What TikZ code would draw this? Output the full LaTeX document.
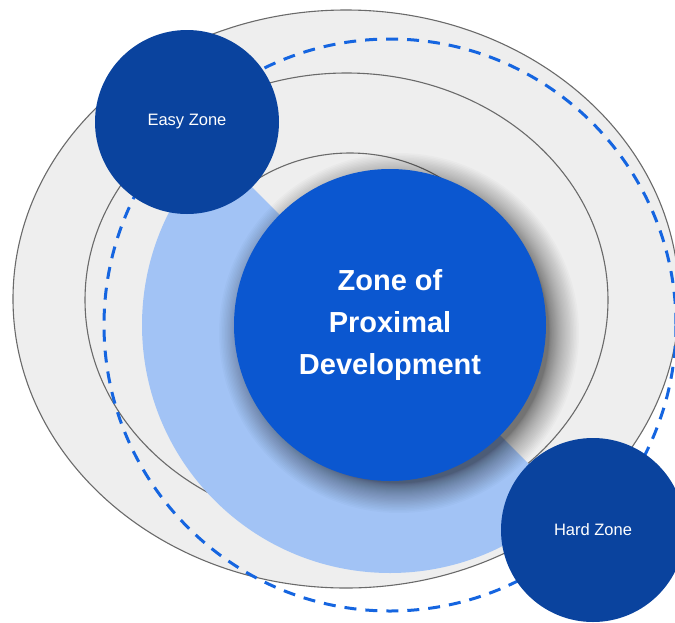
\documentclass[tikz,border=0pt]{standalone}
\usepackage{fontspec}
\setmainfont{Liberation Sans}
\usetikzlibrary{calc}

\definecolor{ringgray}{HTML}{EEEEEE}
\definecolor{edgegray}{HTML}{6A6A6A}
\definecolor{zpdblue}{HTML}{0B57D0}
\definecolor{zonenavy}{HTML}{0A439E}
\definecolor{armblue}{HTML}{A2C3F5}
\definecolor{dashblue}{HTML}{1565E0}

\begin{document}
\begin{tikzpicture}[x=1pt,y=-1pt,
  band/.style={fill=ringgray, draw=edgegray, line width=1.1pt},
  orbit/.style={draw=dashblue, line width=3pt, dash pattern=on 12pt off 9pt},
  zone/.style={circle, fill=zonenavy, minimum size=184pt, inner sep=0pt,
    text=white, font=\fontsize{16.5}{18}\selectfont},
  core/.style={circle, fill=zpdblue, minimum size=312pt, inner sep=0pt,
    text=white, align=center, font=\fontsize{29}{42}\selectfont\bfseries},
  halolayer/.style={fill=black, fill opacity=0.019}]

\useasboundingbox (0,0) rectangle (675,622);
\clip (0,0) rectangle (675,622);

\coordinate (c) at (390,325);
\coordinate (shadowc) at (399,333);

% nested grey bands
\draw[band] (346,299) ellipse [x radius=333, y radius=289];
\draw[band] (346.5,300) ellipse [x radius=261.5, y radius=227];
\draw[band] (350,330) circle [radius=177];

% dashed orbit carrying the two outer zones
\draw[orbit] (c) circle [radius=286];

% light-blue stretch from the easy side round to the hard side
\fill[armblue] ($(c)+(45:248)$) arc [start angle=45, end angle=225, radius=248]
  -- ($(c)+(225:150)$) arc [start angle=225, end angle=45, radius=150] -- cycle;

% soft drop shadow: stacked translucent discs, denser near the rim
\foreach \k in {1,...,32}{
  \pgfmathsetmacro{\rr}{150+30*(\k/32)^1.7}
  \fill[halolayer] (shadowc) circle [radius=\rr];
}

% central zone
\node[core] (zpd) at (c) {Zone of\\Proximal\\Development};

% outer zones
\node[zone] (easy) at (187,122) {Easy Zone};
\node[zone] (hard) at (593,530) {Hard Zone};

\end{tikzpicture}
\end{document}
